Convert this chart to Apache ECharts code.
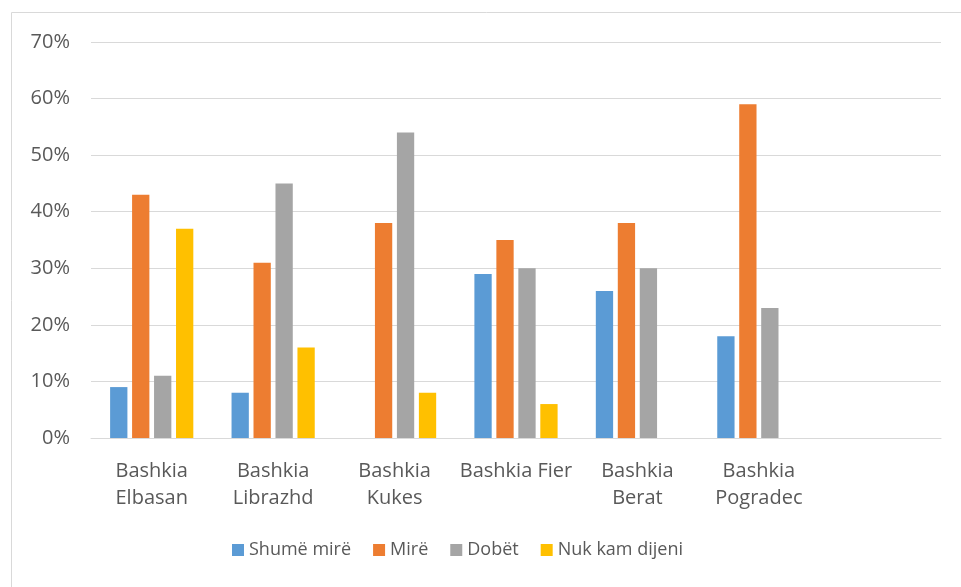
<!DOCTYPE html>
<html>
<head>
<meta charset="utf-8">
<script src="https://cdn.jsdelivr.net/npm/echarts@6/dist/echarts.min.js"></script>
<style>
  html, body { margin: 0; padding: 0; background: #fff; }
  #chart { width: 961px; height: 587px; }
</style>
</head>
<body>
<div id="chart"></div>
<script>
// kategoritë (e fundit bosh, si në Excel)
const categories = ['Bashkia\nElbasan', 'Bashkia\nLibrazhd', 'Bashkia\nKukes', 'Bashkia Fier', 'Bashkia\nBerat', 'Bashkia\nPogradec', ''];

const shumeMire = [9, 8, null, 29, 26, 18, null];
const mire = [43, 31, 38, 35, 38, 59, null];
const dobet = [11, 45, 54, 30, 30, 23, null];
const nukKamDijeni = [37, 16, 8, 6, null, null, null];

const seriesNames = ['Shumë mirë', 'Mirë', 'Dobët', 'Nuk kam dijeni'];
const seriesColors = ['#5b9bd5', '#ed7d31', '#a5a5a5', '#ffc000'];
const seriesData = [shumeMire, mire, dobet, nukKamDijeni];

const textColor = '#595959';
const fontFamily = 'Open Sans, Calibri, sans-serif';

const chart = echarts.init(document.getElementById('chart'));

chart.setOption({
    animation: false,
    textStyle: { fontFamily: fontFamily },
    graphic: [{
        type: 'rect',
        shape: { x: 11.5, y: 12.5, width: 1000, height: 1000 },
        style: { fill: 'none', stroke: '#d9d9d9', lineWidth: 1 },
        silent: true
    }],
    grid: { left: 91, right: 20, top: 42, bottom: 149 },
    legend: {
        bottom: 23,
        left: 227,
        itemWidth: 12,
        itemHeight: 12,
        itemGap: 22,
        icon: 'rect',
        textStyle: { color: textColor, fontSize: 18, fontFamily: fontFamily },
        data: seriesNames
    },
    xAxis: {
        type: 'category',
        data: categories,
        axisLine: { lineStyle: { color: '#d9d9d9', width: 1 } },
        axisTick: { show: false },
        axisLabel: {
            color: textColor,
            fontSize: 20,
            lineHeight: 27,
            margin: 20,
            interval: 0
        }
    },
    yAxis: {
        type: 'value',
        min: 0,
        max: 70,
        interval: 10,
        axisLine: { show: false },
        axisTick: { show: false },
        splitLine: { lineStyle: { color: '#d9d9d9', width: 1 } },
        axisLabel: {
            color: textColor,
            fontSize: 20,
            margin: 21,
            formatter: '{value}%'
        }
    },
    series: seriesNames.map(function (name, i) {
        return {
            name: name,
            type: 'bar',
            data: seriesData[i],
            barWidth: 17.3,
            barGap: '27%',
            itemStyle: { color: seriesColors[i] }
        };
    })
});
</script>
</body>
</html>
